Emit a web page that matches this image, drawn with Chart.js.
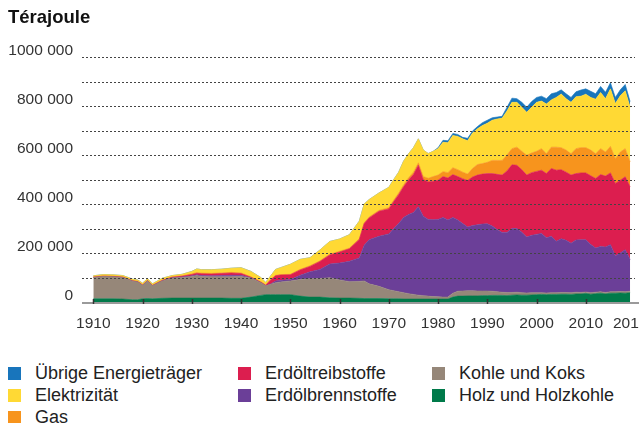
<!DOCTYPE html>
<html lang="de">
<head>
<meta charset="utf-8">
<script src="https://cdn.jsdelivr.net/npm/chart.js@4.4.0/dist/chart.umd.min.js"></script>
<style>
body{margin:0;background:#fff;font-family:"Liberation Sans",Arial,sans-serif;color:#222}
#wrap{position:relative;width:639px;height:423px;overflow:hidden}
#title{position:absolute;left:8px;top:6px;font-weight:bold;font-size:18.5px;color:#111}
#box{position:absolute;left:0;top:0;width:639px;height:350px}
.leg{position:absolute;height:22px;display:flex;align-items:center;font-size:18px;white-space:nowrap;color:#222}
.leg span{display:inline-block;width:13px;height:13px;margin-right:14px}
</style>
</head>
<body>
<div id="wrap">
  <div id="box"><canvas id="myChart"></canvas></div>
  <div id="title">Térajoule</div>
  <div id="legend"></div>
</div>
<script>
// Werte in 1000 TJ
const years = [1910,1912,1914,1916,1918,1919,1920,1921,1922,1924,
  1926,1928,1930,1931,1932,1934,1936,1938,1940,1942,
  1944,1945,1946,1947,1948,1950,1952,1954,1956,1958,
  1960,1962,1964,1965,1966,1968,
  1970,1971,1972,1973,1974,1975,1976,1977,1978,1979,
  1980,1981,1982,1983,1984,1985,1986,1987,1988,1989,
  1990,1991,1992,1993,1994,1995,1996,1997,1998,1999,
  2000,2001,2002,2003,2004,2005,2006,2007,2008,2009,
  2010,2011,2012,2013,2014,2015,2016,2017,2018,2019];

const holz = [13,13,13,12,9,9,13,14,13,15,
  16,16,16,16,16,16,16,15,15,20,
  27,30,30,30,30,30,24,20,20,17,
  16,16,15,14,14,14,
  13,13,13,12,12,12,12,12,12,12,
  12,12,12,20,24,24,25,25,25,26,
  26,27,27,27,26,28,29,28,28,29,
  30,31,30,31,31,32,32,31,33,33,
  35,32,34,36,33,36,36,37,36,38];
const kohle = [87,91,90,88,76,73,55,72,53,71,
  82,84,88,92,88,87,87,88,89,78,
  52,36,42,49,52,56,68,75,76,82,
  74,67,69,72,60,50,
  37,33,29,26,22,19,16,14,12,10,
  9,8,8,16,20,21,21,21,20,19,
  19,17,15,13,13,11,11,10,9,9,
  8,7,7,7,7,7,7,7,7,6,
  6,6,6,6,6,6,6,6,6,6];
const brenn = [0,0,0,0,0,0,0,0,0,0,
  1,2,3,3,4,4,5,6,5,1,
  0,0,1,7,7,6,17,28,37,56,
  69,83,96,146,180,204,
  228,254,278,307,323,334,361,324,313,314,
  316,325,315,309,291,275,260,266,270,273,
  274,266,254,244,245,261,260,247,228,234,
  238,242,225,230,210,219,213,202,213,215,
  213,197,180,185,185,192,147,157,171,129];
const treib = [1,1,1,1,1,1,1,1,1,2,
  2,3,5,6,7,7,8,9,7,2,
  2,2,17,21,21,19,22,22,32,37,
  45,51,75,88,89,102,
  102,110,118,125,141,155,169,150,153,157,
  160,167,171,175,177,183,190,198,203,204,
  205,214,225,234,251,260,258,255,253,256,
  257,258,262,277,290,282,278,278,271,273,
  273,280,284,293,290,293,295,297,298,297];
const gas = [2,2,2,2,2,2,2,2,2,2,
  2,2,3,3,3,3,3,3,3,2,
  2,2,2,2,2,2,2,3,3,3,
  3,3,3,3,4,4,
  5,6,7,8,9,10,10,12,15,19,
  21,20,22,28,28,27,26,35,43,43,
  46,54,57,60,65,66,74,75,81,80,
  82,88,81,87,94,90,90,87,102,103,
  103,105,101,106,98,108,101,115,115,102];
const elek = [4,5,5,5,5,5,6,6,5,7,
  5,6,10,15,14,15,15,17,21,22,
  17,10,14,24,28,41,41,33,44,52,
  50,55,72,77,71,71,
  83,84,85,97,98,100,98,108,101,103,
  108,120,122,132,136,136,136,145,146,155,
  160,164,169,172,180,189,183,180,175,187,
  200,194,203,193,203,219,210,210,212,210,
  218,215,223,229,218,235,225,230,236,223];
const uebrige = [0,0,0,0,0,0,0,0,0,0,
  0,0,0,0,0,0,0,0,0,0,
  0,0,0,0,0,0,0,0,0,0,
  0,0,0,0,0,0,
  0,0,0,0,0,0,0,0,0,0,
  4,8,8,8,8,6,10,8,9,12,
  12,10,8,8,15,17,15,20,21,23,
  20,20,22,25,20,17,20,20,20,25,
  22,25,22,25,26,25,25,24,26,23];

const tickYears = [1910,1920,1930,1940,1950,1960,1970,1980,1990,2000,2010,2019];

const names = ["Holz und Holzkohle","Kohle und Koks","Erdölbrennstoffe","Erdöltreibstoffe","Gas","Elektrizität","Übrige Energieträger"];
const series = [holz,kohle,brenn,treib,gas,elek,uebrige];
const colors = ['#007a4a','#968779','#6b3f98','#dc1e4f','#f7941d','#ffd934','#1875bc'];

// Legende: Spalten von oben nach unten
const legendCols = [[6,5,4],[3,2],[1,0]];
const legendX = [8,238,432];
const legendTop = 362.5, legendRow = 21.8;

Chart.defaults.font.family = '"Liberation Sans", Arial, sans-serif';

const gridOnTop = {
  id: 'gridOnTop',
  afterDatasetsDraw(chart) {
    const {ctx, chartArea, scales} = chart;
    const x = scales.x, y = scales.y;
    ctx.save();
    ctx.strokeStyle = '#444';
    ctx.lineWidth = 1;
    ctx.setLineDash([2,2]);
    y.ticks.forEach(t => {
      if (t.value <= 0) return;
      const py = Math.round(y.getPixelForValue(t.value)) + 0.5;
      ctx.beginPath();
      ctx.moveTo(chartArea.left, py);
      ctx.lineTo(chartArea.right - 4, py);
      ctx.stroke();
    });
    ctx.setLineDash([]);
    // x-Achse
    ctx.strokeStyle = '#9a9a9a';
    ctx.lineWidth = 2;
    ctx.beginPath();
    ctx.moveTo(chartArea.left, chartArea.bottom + 1);
    ctx.lineTo(chart.width, chartArea.bottom + 1);
    ctx.stroke();
    ctx.strokeStyle = '#333';
    ctx.lineWidth = 1.5;
    x.ticks.forEach((t, i) => {
      if (i === x.ticks.length - 1) return;
      const px = Math.round(x.getPixelForValue(t.value)) + 0.5;
      ctx.beginPath();
      ctx.moveTo(px, chartArea.bottom - 3);
      ctx.lineTo(px, chartArea.bottom + 2);
      ctx.stroke();
    });
    ctx.restore();
  }
};

const ctx = document.getElementById('myChart').getContext('2d');
const myChart = new Chart(ctx, {
  type: 'line',
  data: {
    datasets: series.map((s, i) => ({
      label: names[i],
      data: years.map((yr, j) => ({x: yr, y: s[j]})),
      backgroundColor: colors[i],
      borderColor: colors[i],
      borderWidth: 0.6,
      fill: i === 0 ? 'origin' : '-1',
      pointRadius: 0,
      tension: 0
    }))
  },
  options: {
    responsive: true,
    maintainAspectRatio: false,
    animation: false,
    layout: { padding: { top: 57, left: 0, right: 0, bottom: 0 } },
    plugins: {
      legend: { display: false },
      tooltip: { enabled: false }
    },
    scales: {
      x: {
        type: 'linear',
        min: 1907.7,
        max: 2020.8,
        grid: { display: false, drawTicks: false },
        border: { display: false },
        afterBuildTicks: s => { s.ticks = tickYears.map(v => ({ value: v })); },
        afterFit: s => { s.height = 48; s.paddingLeft = 0; s.paddingRight = 0; },
        ticks: {
          autoSkip: false,
          maxRotation: 0,
          padding: 12,
          color: '#333',
          font: { size: 15.5 },
          callback: v => String(v)
        }
      },
      y: {
        stacked: true,
        min: 0,
        max: 1000,
        grid: { display: false, drawTicks: false },
        border: { display: false },
        afterFit: s => { s.width = 82; s.paddingTop = 0; s.paddingBottom = 0; },
        ticks: {
          stepSize: 100,
          padding: 9,
          labelOffset: -6,
          color: '#333',
          font: { size: 15.5 },
          callback: v => (v % 200 ? '' : (v ? v + ' 000' : '0'))
        }
      }
    }
  },
  plugins: [gridOnTop]
});

const legend = document.getElementById('legend');
legendCols.forEach((col, c) => {
  col.forEach((idx, r) => {
    const d = document.createElement('div');
    d.className = 'leg';
    d.style.left = legendX[c] + 'px';
    d.style.top = (legendTop + r * legendRow) + 'px';
    d.innerHTML = '<span style="background:' + colors[idx] + '"></span>' + names[idx];
    legend.appendChild(d);
  });
});
</script>
</body>
</html>
